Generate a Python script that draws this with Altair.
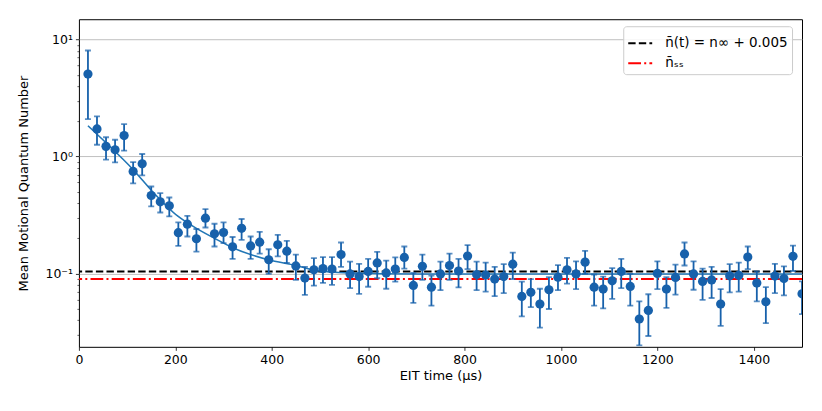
import altair as alt
import pandas as pd

# --- data ---
times = [18.75, 37.5, 56.25, 75, 93.75, 112.5, 131.25, 150, 168.75, 187.5,
         206.25, 225, 243.75, 262.5, 281.25, 300, 318.75, 337.5, 356.25, 375,
         393.75, 412.5, 431.25, 450, 468.75, 487.5, 506.25, 525, 543.75, 562.5,
         581.25, 600, 618.75, 637.5, 656.25, 675, 693.75, 712.5, 731.25, 750,
         768.75, 787.5, 806.25, 825, 843.75, 862.5, 881.25, 900, 918.75, 937.5,
         956.25, 975, 993.75, 1012.5, 1031.25, 1050, 1068.75, 1087.5, 1106.25, 1125,
         1143.75, 1162.5, 1181.25, 1200, 1218.75, 1237.5, 1256.25, 1275, 1293.75, 1312.5,
         1331.25, 1350, 1368.75, 1387.5, 1406.25, 1425, 1443.75, 1462.5, 1481.25, 1500]

nbar = [5.06, 1.72, 1.22, 1.14, 1.51, 0.745, 0.866, 0.464, 0.41, 0.379,
        0.223, 0.264, 0.198, 0.297, 0.218, 0.224, 0.169, 0.243, 0.172, 0.185,
        0.131, 0.176, 0.155, 0.116, 0.0913, 0.1076, 0.11, 0.109, 0.145, 0.099,
        0.094, 0.104, 0.123, 0.101, 0.109, 0.137, 0.079, 0.115, 0.0764, 0.099,
        0.117, 0.105, 0.141, 0.098, 0.097, 0.0895, 0.094, 0.12, 0.0636, 0.069,
        0.0547, 0.0726, 0.093, 0.1076, 0.099, 0.125, 0.0764, 0.0735, 0.0866, 0.104,
        0.0775, 0.0408, 0.0483, 0.1, 0.0735, 0.0925, 0.147, 0.099, 0.0855, 0.088,
        0.0547, 0.0955, 0.0963, 0.138, 0.0828, 0.0573, 0.095, 0.0906, 0.14, 0.067]

err_lo = [2.09, 1.26, 0.94, 0.89, 1.12, 0.59, 0.69, 0.374, 0.332, 0.307,
          0.172, 0.207, 0.154, 0.247, 0.17, 0.182, 0.133, 0.194, 0.133, 0.148,
          0.099, 0.14, 0.123, 0.088, 0.0655, 0.0786, 0.083, 0.08, 0.114, 0.075,
          0.067, 0.077, 0.091, 0.074, 0.085, 0.11, 0.056, 0.088, 0.053, 0.072,
          0.088, 0.076, 0.109, 0.072, 0.07, 0.064, 0.068, 0.0895, 0.043, 0.0516,
          0.0345, 0.0497, 0.072, 0.082, 0.0735, 0.099, 0.053, 0.0503, 0.0607, 0.075,
          0.053, 0.0243, 0.0292, 0.0735, 0.0507, 0.066, 0.117, 0.0726, 0.0595, 0.0617,
          0.0357, 0.069, 0.07, 0.109, 0.0578, 0.0376, 0.068, 0.065, 0.105, 0.045]

err_hi = [8.05, 2.2, 1.46, 1.39, 1.89, 0.895, 1.05, 0.554, 0.486, 0.446,
          0.273, 0.311, 0.24, 0.355, 0.266, 0.273, 0.205, 0.292, 0.207, 0.227,
          0.161, 0.214, 0.19, 0.145, 0.114, 0.135, 0.138, 0.138, 0.184, 0.126,
          0.121, 0.133, 0.153, 0.129, 0.137, 0.17, 0.101, 0.145, 0.096, 0.126,
          0.148, 0.133, 0.175, 0.126, 0.124, 0.114, 0.12, 0.151, 0.085, 0.0895,
          0.074, 0.093, 0.118, 0.136, 0.127, 0.156, 0.098, 0.094, 0.111, 0.133,
          0.099, 0.0578, 0.0664, 0.127, 0.093, 0.119, 0.184, 0.127, 0.11, 0.114,
          0.0735, 0.12, 0.124, 0.17, 0.104, 0.0764, 0.121, 0.115, 0.173, 0.0855]

fit_t = [18.75, 57, 114, 151, 206, 243, 281, 318, 393, 450, 487, 560, 700, 1000, 1500]
fit_n = [1.83, 1.30, 0.76, 0.51, 0.307, 0.244, 0.200, 0.167, 0.131, 0.117, 0.107, 0.101, 0.099, 0.099, 0.099]

ref_names = ["n̄(t) = n∞ + 0.005", "n̄ₛₛ"]
ref_values = [0.104, 0.0895]

x_ticks = [0, 200, 400, 600, 800, 1000, 1200, 1400]
y_ticks = [0.03, 0.04, 0.05, 0.06, 0.07, 0.08, 0.09,
           0.1, 0.2, 0.3, 0.4, 0.5, 0.6, 0.7, 0.8, 0.9,
           1, 2, 3, 4, 5, 6, 7, 8, 9, 10]

df = pd.DataFrame({"t": times, "n": nbar, "lo": err_lo, "hi": err_hi})
fit_df = pd.DataFrame({"t": fit_t, "n": fit_n})
ref_df = pd.DataFrame({"name": ref_names, "value": ref_values})

PT = "#1761ab"
LINE = "#2277b6"
FONT = "DejaVu Sans"

major = "abs(log(datum.value)/LN10 - round(log(datum.value)/LN10)) < 0.001"

xscale = alt.Scale(domain=[0, 1500], nice=False, zero=False)
yscale = alt.Scale(type="log", domain=[0.0236, 14.9], nice=False)

xaxis = alt.Axis(title="EIT time (μs)", values=x_ticks, format="d", grid=False, tickSize=3.5,
                 labelPadding=3, titlePadding=4, labelFlush=False)
yaxis = alt.Axis(title="Mean Motional Quantum Number", values=y_ticks,
                 labelExpr="datum.value == 10 ? '10¹' : datum.value == 1 ? '10⁰' : datum.value == 0.1 ? '10⁻¹' : ''",
                 labelOverlap=False, labelPadding=3,
                 tickSize={"condition": {"test": major, "value": 3.5}, "value": 2},
                 tickWidth={"condition": {"test": major, "value": 0.8}, "value": 0.6},
                 grid=True, gridColor="#b0b0b0", gridWidth=0.8,
                 gridOpacity={"condition": {"test": major, "value": 1}, "value": 0},
                 titlePadding=14)

refs = alt.Chart(ref_df).mark_rule(strokeWidth=2, clip=True).encode(
    y=alt.Y("value:Q", scale=yscale, axis=yaxis),
    color=alt.Color("name:N",
                    scale=alt.Scale(domain=ref_names, range=["#000000", "#ff0000"]),
                    legend=alt.Legend(title=None, orient="none", legendX=545, legendY=7,
                                      symbolType="stroke", symbolSize=576, symbolStrokeWidth=2,
                                      labelFontSize=13.5, labelFont=FONT, labelColor="#000",
                                      labelOffset=12, rowPadding=0,
                                      fillColor="rgba(255,255,255,0.85)", strokeColor="#cccccc",
                                      cornerRadius=3, padding=4)),
    strokeDash=alt.StrokeDash("name:N",
                              scale=alt.Scale(domain=ref_names, range=[[7.4, 3.2], [12.8, 3.2, 2, 3.2]]),
                              legend=None),
)

fit = alt.Chart(fit_df).mark_line(color=LINE, strokeWidth=1.6, interpolate="monotone", clip=True).encode(
    x=alt.X("t:Q", scale=xscale, axis=xaxis),
    y=alt.Y("n:Q", scale=yscale),
)

bars = alt.Chart(df).mark_rule(color=PT, strokeWidth=1.8, clip=True).encode(
    x=alt.X("t:Q", scale=xscale),
    y=alt.Y("lo:Q", scale=yscale),
    y2="hi:Q",
)

cap_lo = alt.Chart(df).mark_tick(color=PT, orient="horizontal", size=6, thickness=1.8, clip=True).encode(
    x=alt.X("t:Q", scale=xscale),
    y=alt.Y("lo:Q", scale=yscale),
)
cap_hi = alt.Chart(df).mark_tick(color=PT, orient="horizontal", size=6, thickness=1.8, clip=True).encode(
    x=alt.X("t:Q", scale=xscale),
    y=alt.Y("hi:Q", scale=yscale),
)

pts = alt.Chart(df).mark_circle(color=PT, size=85, opacity=1, clip=True).encode(
    x=alt.X("t:Q", scale=xscale),
    y=alt.Y("n:Q", scale=yscale),
)

chart = alt.layer(refs, fit, bars, cap_lo, cap_hi, pts).properties(
    width=724, height=328,
    autosize="none",
    background="white",
    padding={"left": 71, "top": 11, "right": 12, "bottom": 56},
).configure_view(
    stroke="#000000", strokeWidth=1
).configure_axis(
    domain=False, tickColor="#000000", labelColor="#000000", titleColor="#000000",
    labelFont=FONT, titleFont=FONT, labelFontSize=12.5, titleFontSize=13,
    titleFontWeight="normal", tickWidth=0.8
)

chart.save("out.html", embed_options={"renderer": "svg", "actions": False})
